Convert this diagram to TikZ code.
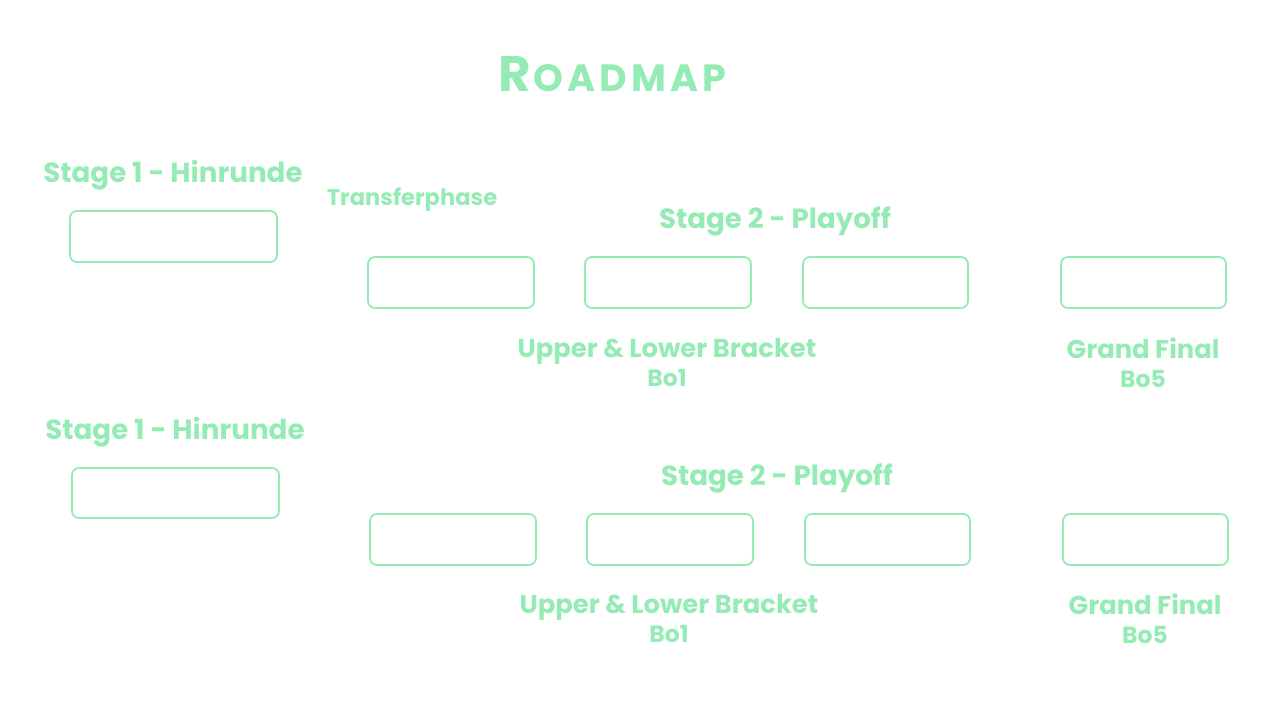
\documentclass[tikz,border=0pt]{standalone}
\usepackage{fontspec}
\setmainfont{Poppins}
\definecolor{mint}{RGB}{148,235,180}
\begin{document}
\begin{tikzpicture}[x=1pt,y=-1pt,
  slot/.style={draw=mint,line width=1.8pt,rounded corners=7pt},
  lbl/.style={text=mint,font=\bfseries,inner sep=0pt,anchor=base},
  big/.style={lbl,font=\fontsize{27.7}{30}\selectfont\bfseries},
  mid/.style={lbl,font=\fontsize{25.8}{28}\selectfont\bfseries},
  bo/.style={lbl,font=\fontsize{23.5}{26}\selectfont\bfseries},
  sml/.style={lbl,font=\fontsize{22.6}{26}\selectfont\bfseries}]
\useasboundingbox (0,0) rectangle (1280,720);
\node[lbl,font=\fontsize{50}{54}\selectfont\bfseries] (title) at (612,91) {R\kern3pt\fontsize{38}{40}\selectfont O\kern4pt A\kern4pt D\kern4pt M\kern4pt A\kern4pt P};
% row 1
\node[big] (s1a) at (173,182) {Stage 1 - Hinrunde};
\node[sml] (tr) at (412,205) {Transferphase};
\node[big] (s2a) at (775,228) {Stage 2 - Playoff};
\draw[slot] (70,211) rectangle (277,262) node[midway] (b1a) {};
\draw[slot] (368,257) rectangle (534,308) node[midway] (b2a) {};
\draw[slot] (585,257) rectangle (751,308) node[midway] (b3a) {};
\draw[slot] (803,257) rectangle (968,308) node[midway] (b4a) {};
\draw[slot] (1061,257) rectangle (1226,308) node[midway] (b5a) {};
\node[mid] (ula) at (667,357) {Upper \& Lower Bracket};
\node[bo] (boa) at (667,386) {Bo1};
\node[mid] (gfa) at (1143,358) {Grand Final};
\node[bo] (bfa) at (1143,387) {Bo5};
% row 2
\node[big] (s1b) at (175,439) {Stage 1 - Hinrunde};
\node[big] (s2b) at (777,485) {Stage 2 - Playoff};
\draw[slot] (72,468) rectangle (279,518) node[midway] (b1b) {};
\draw[slot] (370,514) rectangle (536,565) node[midway] (b2b) {};
\draw[slot] (587,514) rectangle (753,565) node[midway] (b3b) {};
\draw[slot] (805,514) rectangle (970,565) node[midway] (b4b) {};
\draw[slot] (1063,514) rectangle (1228,565) node[midway] (b5b) {};
\node[mid] (ulb) at (669,613) {Upper \& Lower Bracket};
\node[bo] (bob) at (669,642) {Bo1};
\node[mid] (gfb) at (1145,614) {Grand Final};
\node[bo] (bfb) at (1145,643) {Bo5};
\end{tikzpicture}
\end{document}
